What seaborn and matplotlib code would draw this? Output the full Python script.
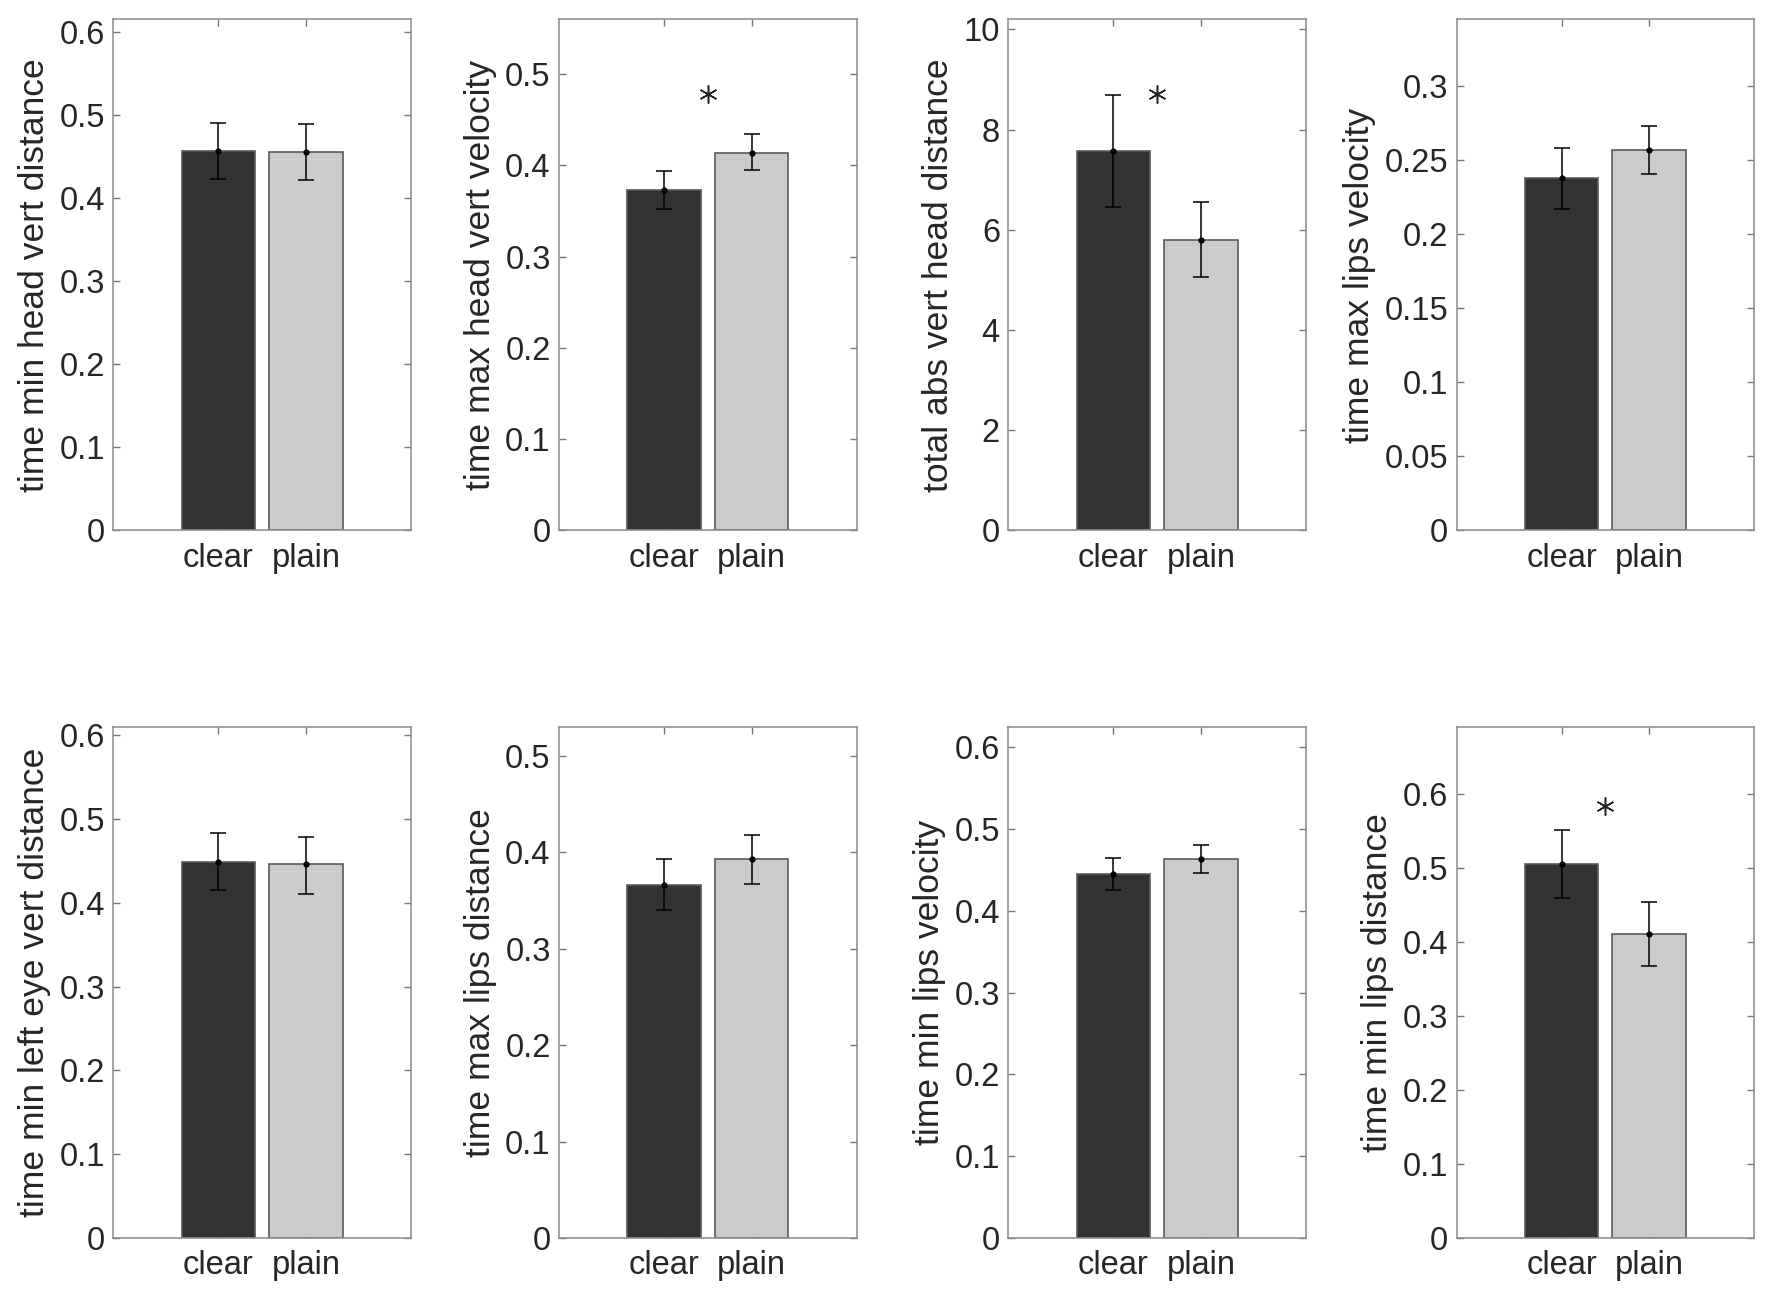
import pandas as pd
import matplotlib.pyplot as plt
import seaborn as sns
from matplotlib.ticker import FuncFormatter, MultipleLocator

# condition names on the x axis
conditions = ['clear', 'plain']

# one entry per panel (row by row)
ylabels = ['time min head vert distance', 'time max head vert velocity',
           'total abs vert head distance', 'time max lips velocity',
           'time min left eye vert distance', 'time max lips distance',
           'time min lips velocity', 'time min lips distance']
mean_clear = [0.457, 0.373, 7.58, 0.238, 0.449, 0.366, 0.445, 0.505]
mean_plain = [0.455, 0.414, 5.80, 0.257, 0.446, 0.393, 0.464, 0.410]
lo_clear = [0.423, 0.352, 6.45, 0.217, 0.415, 0.340, 0.425, 0.459]
hi_clear = [0.490, 0.394, 8.70, 0.258, 0.483, 0.393, 0.465, 0.551]
lo_plain = [0.422, 0.395, 5.05, 0.241, 0.411, 0.367, 0.447, 0.367]
hi_plain = [0.489, 0.434, 6.55, 0.273, 0.479, 0.418, 0.481, 0.454]
y_max = [0.615, 0.56, 10.2, 0.345, 0.61, 0.53, 0.625, 0.69]
y_step = [0.1, 0.1, 2, 0.05, 0.1, 0.1, 0.1, 0.1]
# significance asterisks (None = no star)
star_y = [None, 0.478, 8.72, None, None, None, None, 0.583]

sns.set_style('white')
plt.rcParams['font.family'] = ['Liberation Sans', 'DejaVu Sans']

fig = plt.figure(figsize=(17.72, 12.97), dpi=100)

lefts = [0.064, 0.3155, 0.569, 0.822]
bottoms = [0.591, 0.0455]
w, h = 0.168, 0.394

text_col = '#262626'
dark, light = '#333333', '#cbcbcb'

for i, label in enumerate(ylabels):
    r, c = divmod(i, 4)
    ax = fig.add_axes([lefts[c], bottoms[r], w, h])

    df = pd.DataFrame({'condition': conditions,
                       'value': [mean_clear[i], mean_plain[i]]})
    sns.barplot(data=df, x='condition', y='value', hue='condition',
                palette=[dark, light], dodge=False, width=0.84,
                edgecolor='#5a5a5a', linewidth=1.2, errorbar=None,
                legend=False, ax=ax)

    # error bars + mean dot at bar centres
    xs = [p.get_x() + p.get_width() / 2 for p in ax.patches]
    means = [mean_clear[i], mean_plain[i]]
    lows = [mean_clear[i] - lo_clear[i], mean_plain[i] - lo_plain[i]]
    highs = [hi_clear[i] - mean_clear[i], hi_plain[i] - mean_plain[i]]
    ax.errorbar(xs, means, yerr=[lows, highs], fmt='o', color='black',
                markersize=3.5, elinewidth=1.1, capsize=6, capthick=1.1)

    if star_y[i] is not None:
        ax.plot([sum(xs) / 2], [star_y[i]], marker=(6, 2, 0),
                markersize=13, color='#222222', markeredgewidth=1.1)

    ax.set_xlim(-1.2, 2.2)
    ax.set_ylim(0, y_max[i])
    ax.yaxis.set_major_locator(MultipleLocator(y_step[i]))
    ax.yaxis.set_major_formatter(FuncFormatter(lambda v, pos: f'{v:g}'))

    ax.set_xlabel('')
    ax.set_ylabel(label, fontsize=25.5, color=text_col, labelpad=6)
    ax.tick_params(axis='both', direction='in', length=5, width=1,
                   color='#777777', labelsize=23.5, labelcolor=text_col,
                   top=True, right=True, left=True, bottom=True, pad=6)
    ax.tick_params(axis='x', pad=9)
    for s in ax.spines.values():
        s.set_visible(True)
        s.set_color('#8a8a8a')
        s.set_linewidth(1.1)

fig.savefig('out.png', dpi=100)
